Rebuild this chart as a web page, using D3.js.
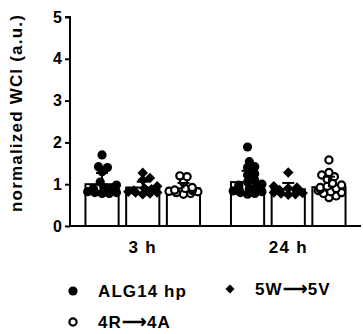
<!DOCTYPE html>
<html>
<head>
<meta charset="utf-8">
<script src="https://cdn.jsdelivr.net/npm/d3@7"></script>
<style>
  body { margin: 0; background: #fff; }
  text { font-family: "Liberation Sans", Arial, sans-serif; font-weight: bold; fill: #000; }
</style>
</head>
<body>
<div id="chart"></div>
<script>
const timepoints = ["3 h", "24 h"];
const series = ["ALG14 hp", "5W\u27F65V", "4R\u27F64A"];
const symbols = ["circle", "diamond", "ring"];
const yTicks = [0, 1, 2, 3, 4, 5];

// bar height (mean) and upward error (SD), per timepoint, per series
const means = [[1.00, 0.92, 0.90], [1.05, 0.88, 0.93]];
const sds = [[0.27, 0.14, 0.13], [0.27, 0.15, 0.25]];

// individual points
const alg3h = [1.70, 1.42, 1.40, 1.30, 1.05, 0.98, 0.92, 0.90, 0.88, 0.87, 0.85, 0.84, 0.83, 0.82, 0.80, 0.80, 0.78, 0.78];
const w5v3h = [1.27, 1.15, 1.10, 0.95, 0.90, 0.88, 0.85, 0.83, 0.82, 0.80, 0.80, 0.78, 0.76];
const r4a3h = [1.20, 1.18, 1.05, 0.92, 0.90, 0.88, 0.86, 0.85, 0.83, 0.82, 0.80, 0.78, 0.76];
const alg24h = [1.89, 1.54, 1.42, 1.40, 1.25, 1.22, 1.10, 1.05, 1.00, 0.98, 0.95, 0.92, 0.90, 0.88, 0.86, 0.84, 0.82, 0.80, 0.78, 0.76];
const w5v24h = [1.28, 0.95, 0.92, 0.90, 0.88, 0.86, 0.85, 0.84, 0.82, 0.80, 0.79, 0.78, 0.76, 0.75];
const r4a24h = [1.58, 1.28, 1.22, 1.18, 1.12, 1.02, 0.98, 0.95, 0.92, 0.90, 0.88, 0.85, 0.82, 0.80, 0.78, 0.72, 0.68];
const points = [[alg3h, w5v3h, r4a3h], [alg24h, w5v24h, r4a24h]];

const width = 363, height = 334;
const margin = { top: 17, right: 2, bottom: 108, left: 70 };

const svg = d3.select("#chart").append("svg")
  .attr("width", width).attr("height", height);

const y = d3.scaleLinear().domain([0, 5]).range([height - margin.bottom, margin.top]);
const x0 = d3.scaleBand().domain(timepoints).range([margin.left, width - margin.right]);
const x1 = d3.scaleBand().domain(series).range([0, x0.bandwidth()]).paddingInner(0.185).paddingOuter(0.38);

const R = 4.6;

// simple beeswarm: push points sideways until they only overlap a little
function swarm(vals, cx, halfW) {
  const placed = [];
  const sorted = vals.slice().sort((a, b) => a - b);
  sorted.forEach(v => {
    const py = y(v);
    let px = null;
    for (let k = 0; k < 60; k++) {
      const off = (k % 2 ? 1 : -1) * Math.ceil(k / 2) * 1.8;
      if (Math.abs(off) > halfW) continue;
      const tx = cx + off;
      if (placed.every(p => Math.hypot(p.x - tx, p.y - py) >= R * 1.3)) { px = tx; break; }
    }
    if (px === null) px = cx + (placed.length % 2 ? 1 : -1) * halfW * 0.6;
    placed.push({ x: px, y: py });
  });
  return placed;
}

// y axis
const yAxis = svg.append("g").attr("transform", `translate(${margin.left},0)`)
  .call(d3.axisLeft(y).tickValues(yTicks).tickFormat(d3.format("d")).tickSize(5).tickPadding(3));
yAxis.selectAll("path, line").attr("stroke", "#000").attr("stroke-width", 2);
yAxis.select(".domain").attr("d", `M-5,${y(5)}H0V${y(0)}`);
yAxis.selectAll("text").attr("font-size", 16).attr("font-family", "Liberation Sans, Arial").attr("font-weight", "bold").attr("fill", "#000");

// x axis
const xAxis = svg.append("g").attr("transform", `translate(0,${y(0)})`)
  .call(d3.axisBottom(x0).tickSize(0).tickPadding(15));
xAxis.select(".domain").attr("stroke", "#000").attr("stroke-width", 2)
  .attr("d", `M${margin.left},0H${width - margin.right}`);
xAxis.selectAll("text").attr("font-size", 17).attr("letter-spacing", 1.3)
  .attr("font-family", "Liberation Sans, Arial").attr("font-weight", "bold").attr("fill", "#000");

svg.append("text")
  .attr("transform", `translate(22,113) rotate(-90)`)
  .attr("text-anchor", "middle").attr("font-size", 17).attr("letter-spacing", 1.2)
  .text("normalized WCI (a.u.)");

function drawSymbol(g, kind, cx, cy, scale) {
  if (kind === "circle") {
    g.append("circle").attr("cx", cx).attr("cy", cy).attr("r", R * scale).attr("fill", "#000");
  } else if (kind === "diamond") {
    const s = R * 1.15 * scale;
    g.append("path").attr("d", `M${cx},${cy - s}L${cx + s},${cy}L${cx},${cy + s}L${cx - s},${cy}Z`).attr("fill", "#000");
  } else {
    g.append("circle").attr("cx", cx).attr("cy", cy).attr("r", (R - 1) * scale)
      .attr("fill", "#fff").attr("stroke", "#000").attr("stroke-width", 2.2);
  }
}

timepoints.forEach((tp, ti) => {
  series.forEach((s, si) => {
    const bx = x0(tp) + x1(s);
    const bw = x1.bandwidth();
    const cx = bx + bw / 2;
    const m = means[ti][si], e = means[ti][si] + sds[ti][si];
    const g = svg.append("g");
    g.append("rect").attr("x", bx).attr("y", y(m))
      .attr("width", bw).attr("height", y(0) - y(m))
      .attr("fill", "#fff").attr("stroke", "#000").attr("stroke-width", 2);
    swarm(points[ti][si], cx, bw / 2 - 2).forEach(p => drawSymbol(g, symbols[si], p.x, p.y, 1));
    g.append("line").attr("x1", cx).attr("x2", cx).attr("y1", y(m)).attr("y2", y(e))
      .attr("stroke", "#000").attr("stroke-width", 2);
    g.append("line").attr("x1", cx - 6).attr("x2", cx + 6).attr("y1", y(e)).attr("y2", y(e))
      .attr("stroke", "#000").attr("stroke-width", 2);
  });
});

// legend
const legendPos = [[73, 291], [230, 289], [73, 322]];
series.forEach((s, i) => {
  const [lx, ly] = legendPos[i];
  const lg = svg.append("g");
  drawSymbol(lg, symbols[i], lx, ly, i === 1 ? 0.85 : 1);
  lg.append("text").attr("x", lx + 25).attr("y", ly + 6).attr("font-size", 17)
    .attr("letter-spacing", 1.1).text(s);
});
</script>
</body>
</html>
